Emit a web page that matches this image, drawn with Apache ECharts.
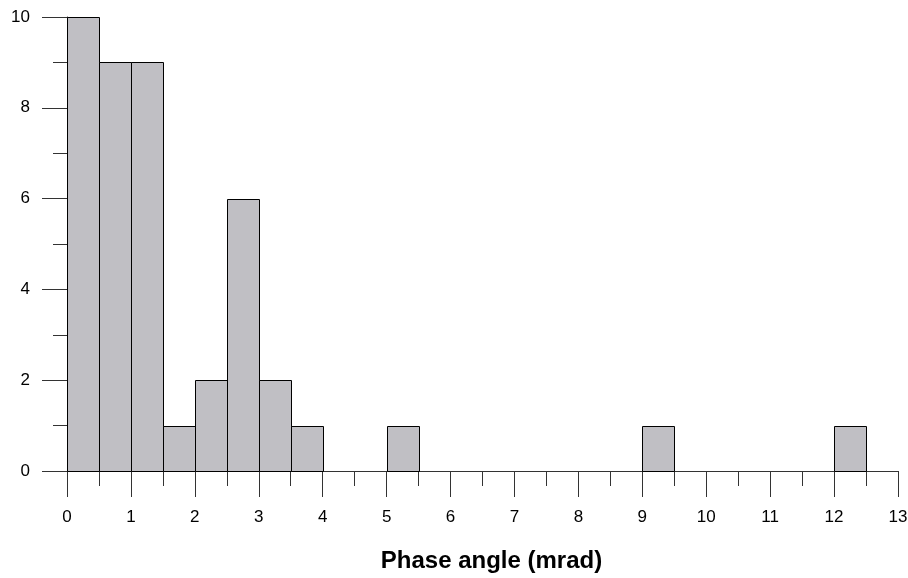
<!DOCTYPE html>
<html>
<head>
<meta charset="utf-8">
<script src="https://cdn.jsdelivr.net/npm/echarts@6/dist/echarts.min.js"></script>
<style>
  html, body { margin: 0; padding: 0; background: #fff; }
  #chart { width: 908px; height: 578px; }
</style>
</head>
<body>
<div id="chart"></div>
<script>
// histogram bins, width 0.5 mrad
var binStarts = [0, 0.5, 1, 1.5, 2, 2.5, 3, 3.5, 4, 4.5, 5, 5.5, 6, 6.5, 7, 7.5, 8, 8.5, 9, 9.5, 10, 10.5, 11, 11.5, 12, 12.5];
var binWidth = 0.5;
var counts = [10, 9, 9, 1, 2, 6, 2, 1, 0, 0, 1, 0, 0, 0, 0, 0, 0, 0, 1, 0, 0, 0, 0, 0, 1, 0];
var xTitle = 'Phase angle (mrad)';

var FONT = '"Liberation Sans", Arial, sans-serif';
var AXIS_COLOR = '#333';

var chart = echarts.init(document.getElementById('chart'));

var seriesData = binStarts.map(function (s, i) {
  return [s, s + binWidth, counts[i]];
});

function renderBin(params, api) {
  var y = api.value(2);
  if (!y) return null;
  var p0 = api.coord([api.value(0), y]);
  var p1 = api.coord([api.value(1), 0]);
  var x0 = Math.round(p0[0]) + 0.5, x1 = Math.round(p1[0]) + 0.5;
  var y0 = Math.round(p0[1]) + 0.5, y1 = Math.round(p1[1]) + 0.5;
  return {
    type: 'rect',
    shape: { x: x0, y: y0, width: x1 - x0, height: y1 - y0 },
    style: { fill: '#c0bfc4', stroke: '#000', lineWidth: 1 }
  };
}

chart.setOption({
  animation: false,
  grid: { left: 67, right: 10, top: 17, bottom: 107, containLabel: false, outerBoundsMode: 'none' },
  xAxis: {
    type: 'value',
    min: 0,
    max: 13,
    interval: 1,
    name: xTitle,
    nameLocation: 'middle',
    nameGap: 78,
    nameTextStyle: { fontFamily: FONT, fontSize: 24, fontWeight: 'bold', color: '#000', padding: [0, 0, 0, 18] },
    axisLine: { show: true, lineStyle: { color: AXIS_COLOR, width: 1 } },
    axisTick: { show: true, length: 26, lineStyle: { color: AXIS_COLOR } },
    minorTick: { show: true, splitNumber: 2, length: 15, lineStyle: { color: AXIS_COLOR } },
    axisLabel: { fontFamily: FONT, fontSize: 17, color: '#000', margin: 38 },
    splitLine: { show: false },
    minorSplitLine: { show: false }
  },
  yAxis: {
    type: 'value',
    min: 0,
    max: 10,
    interval: 2,
    axisLine: { show: true, lineStyle: { color: AXIS_COLOR, width: 1 } },
    axisTick: { show: true, length: 25, lineStyle: { color: AXIS_COLOR } },
    minorTick: { show: true, splitNumber: 2, length: 14, lineStyle: { color: AXIS_COLOR } },
    axisLabel: { fontFamily: FONT, fontSize: 17, color: '#000', margin: 37 },
    splitLine: { show: false },
    minorSplitLine: { show: false }
  },
  series: [{
    type: 'custom',
    renderItem: renderBin,
    encode: { x: [0, 1], y: 2 },
    data: seriesData
  }]
});
</script>
</body>
</html>
